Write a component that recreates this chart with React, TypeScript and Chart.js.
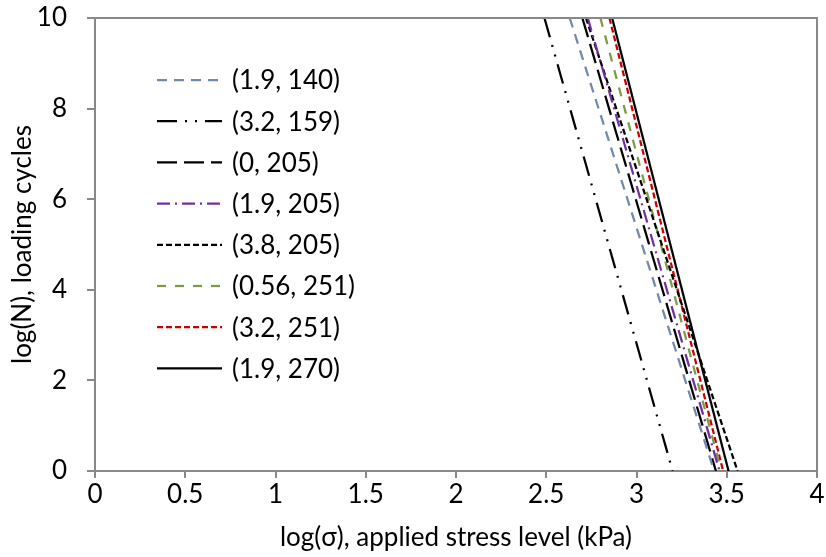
import React, { useEffect, useRef } from "react";
import { Chart, registerables } from "chart.js";

Chart.register(...registerables);

// Series labels as shown in the legend
const seriesLabels = [
  "(1.9, 140)",
  "(3.2, 159)",
  "(0, 205)",
  "(1.9, 205)",
  "(3.8, 205)",
  "(0.56, 251)",
  "(3.2, 251)",
  "(1.9, 270)",
];
// log(sigma) where each line reaches log(N) = 10 and log(N) = 0
const logSigmaAtTop = [2.63, 2.49, 2.7, 2.73, 2.72, 2.8, 2.85, 2.865];
const logSigmaAtBottom = [3.43, 3.2, 3.44, 3.46, 3.56, 3.47, 3.48, 3.51];
const logNTop = 10;
const logNBottom = 0;

const seriesColors = ["#7189ad", "#000000", "#000000", "#7030a0", "#000000", "#7f9a45", "#cc0000", "#000000"];
const seriesDashes: number[][] = [[10, 7], [20, 8, 2, 8, 2, 8], [20, 7], [13, 5, 2, 5], [6, 3], [9, 9], [6, 3], []];

const xTicks = [0, 0.5, 1, 1.5, 2, 2.5, 3, 3.5, 4];
const yTicks = [0, 2, 4, 6, 8, 10];

const FONT = "Lato, 'Open Sans', sans-serif";
const FONT_SIZE = 26;
const AXIS_GRAY = "#898989";

const borderPlugin = {
  id: "plotBorder",
  afterDatasetsDraw(chart: any) {
    const { ctx, chartArea } = chart;
    ctx.save();
    ctx.strokeStyle = AXIS_GRAY;
    ctx.lineWidth = 2;
    ctx.beginPath();
    ctx.moveTo(chartArea.left, chartArea.top);
    ctx.lineTo(chartArea.right, chartArea.top);
    ctx.lineTo(chartArea.right, chartArea.bottom);
    ctx.stroke();
    ctx.restore();
  },
};

const insideLegend = {
  id: "insideLegend",
  afterDraw(chart: any) {
    const { ctx, chartArea } = chart;
    const x0 = chartArea.left + 62;
    const sampleLen = 65;
    const y0 = chartArea.top + 62;
    const rowH = 41.2;
    ctx.save();
    chart.data.datasets.forEach((ds: any, i: number) => {
      const y = y0 + i * rowH;
      ctx.strokeStyle = ds.borderColor;
      ctx.lineWidth = ds.borderWidth;
      ctx.setLineDash(ds.borderDash || []);
      ctx.beginPath();
      ctx.moveTo(x0, y);
      ctx.lineTo(x0 + sampleLen, y);
      ctx.stroke();
      ctx.setLineDash([]);
      ctx.fillStyle = "#000";
      ctx.font = `${FONT_SIZE}px ${FONT}`;
      ctx.textBaseline = "middle";
      ctx.textAlign = "left";
      ctx.fillText(ds.label, x0 + sampleLen + 10, y + 1);
    });
    ctx.restore();
  },
};

export default function App() {
  const ref = useRef<HTMLCanvasElement | null>(null);
  useEffect(() => {
    if (!ref.current) return;
    const datasets = seriesLabels.map((label, i) => ({
      label,
      data: [
        { x: logSigmaAtTop[i], y: logNTop },
        { x: logSigmaAtBottom[i], y: logNBottom },
      ],
      borderColor: seriesColors[i],
      backgroundColor: seriesColors[i],
      borderDash: seriesDashes[i],
      borderWidth: 2.25,
      pointRadius: 0,
      showLine: true,
      fill: false,
    }));
    const chart = new Chart(ref.current, {
      type: "scatter",
      data: { datasets },
      options: {
        animation: false,
        responsive: true,
        maintainAspectRatio: false,
        layout: { padding: { top: 18, right: 9, left: 0, bottom: 0 } },
        plugins: { legend: { display: false }, tooltip: { enabled: false } },
        scales: {
          x: {
            type: "linear",
            min: 0,
            max: 4,
            afterBuildTicks: (s: any) => {
              s.ticks = xTicks.map((v) => ({ value: v }));
            },
            afterFit: (s: any) => {
              s.height = 86;
              s.paddingLeft = 0;
              s.paddingRight = 0;
            },
            ticks: {
              color: "#000",
              font: { family: FONT, size: FONT_SIZE },
              padding: 1,
              maxRotation: 0,
              callback: (v: any) => String(v),
            },
            grid: { drawOnChartArea: false, drawTicks: true, tickLength: 7, color: AXIS_GRAY, lineWidth: 2 },
            border: { display: true, color: AXIS_GRAY, width: 2 },
            title: {
              display: true,
              text: "log(σ), applied stress level (kPa)",
              color: "#000",
              font: { family: FONT, size: FONT_SIZE },
              padding: { top: 0, bottom: 4 },
            },
          },
          y: {
            type: "linear",
            min: 0,
            max: 10,
            afterBuildTicks: (s: any) => {
              s.ticks = yTicks.map((v) => ({ value: v }));
            },
            afterFit: (s: any) => {
              s.width = 95;
              s.paddingTop = 0;
              s.paddingBottom = 0;
            },
            ticks: {
              color: "#000",
              font: { family: FONT, size: FONT_SIZE },
              padding: 20,
              callback: (v: any) => String(v),
            },
            grid: { drawOnChartArea: false, drawTicks: true, tickLength: 8, color: AXIS_GRAY, lineWidth: 2 },
            border: { display: true, color: AXIS_GRAY, width: 2 },
            title: {
              display: true,
              text: "log(N), loading cycles",
              color: "#000",
              font: { family: FONT, size: FONT_SIZE },
              padding: { top: 7, bottom: 0 },
            },
          },
        },
      },
      plugins: [borderPlugin, insideLegend],
    });
    return () => chart.destroy();
  }, []);
  return (
    <div style={{ position: "absolute", left: 0, top: 0, width: 826, height: 557 }}>
      <canvas ref={ref} />
    </div>
  );
}
